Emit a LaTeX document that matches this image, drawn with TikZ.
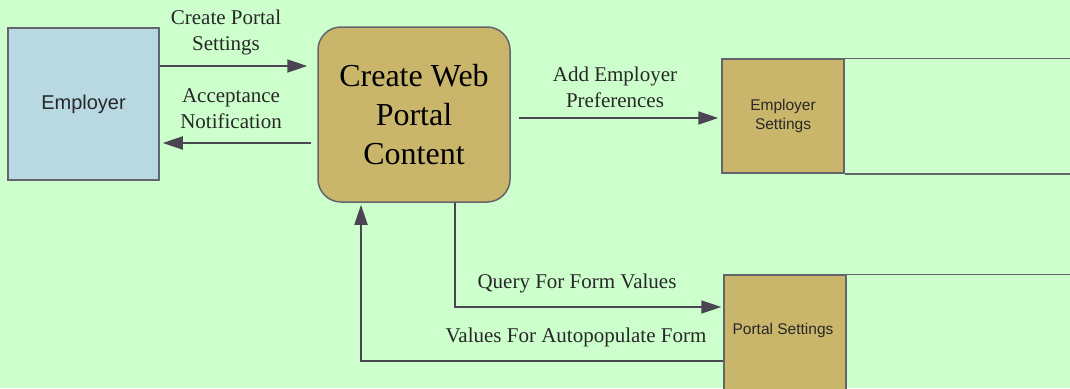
\documentclass[tikz,border=0pt]{standalone}
\usepackage{fontspec}
\setmainfont{Liberation Serif}
\setsansfont{Liberation Sans}
\usetikzlibrary{arrows.meta}
\definecolor{bg}{RGB}{204,255,204}
\definecolor{bluebox}{RGB}{184,216,226}
\definecolor{brown}{RGB}{201,182,106}
\definecolor{edge}{RGB}{100,100,108}
\definecolor{arrowc}{RGB}{75,68,83}
\definecolor{txt}{RGB}{40,40,40}
\tikzset{
  entity/.style={draw=edge, line width=1.5pt, fill=bluebox, inner sep=0pt,
    font=\sffamily\fontsize{20}{24}\selectfont, text=txt},
  process/.style={draw=edge, line width=1.5pt, fill=brown, rounded corners=23pt,
    inner sep=0pt, align=center, font=\fontsize{32}{39}\selectfont, text=black},
  storebox/.style={draw=edge, line width=1.5pt, fill=brown, inner sep=0pt,
    align=center, font=\sffamily\fontsize{15.5}{19}\selectfont, text=txt},
  storeline/.style={draw=edge, line width=1.5pt},
  arr/.style={draw=arrowc, line width=1.8pt, -{Triangle[length=20pt,width=13pt]}},
  lbl/.style={align=center, inner sep=0pt, font=\fontsize{21}{26}\selectfont, text=txt}
}
\begin{document}
\begin{tikzpicture}[x=1pt,y=-1pt]
\useasboundingbox (0,0) rectangle (1070,388);
\fill[bg] (0,0) rectangle (1070,388);

\node[entity, minimum width=151pt, minimum height=152pt] (emp) at (83.5,104) {Employer};
\node[process, minimum width=192pt, minimum height=175pt] (cwpc) at (414,114.5) {Create Web\\Portal\\Content};

% Employer Settings data store
\node[storebox, minimum width=122pt, minimum height=114pt] (es) at (783,116) {Employer\\Settings};
\draw[storeline] (es.north east) -- ++(300,0);
\draw[storeline] (es.south east) -- ++(300,0);

% Portal Settings data store
\node[storebox, minimum width=122pt, minimum height=126pt] (ps) at (785,338) {};
\node[font=\sffamily\fontsize{15.5}{19}\selectfont, text=txt] (pstxt) at (783,330) {Portal Settings};
\draw[storeline] (ps.north east) -- ++(300,0);

% Connectors
\draw[arr, shorten >=10pt] (emp.east |- 0,66) -- (cwpc.west |- 0,66);
\draw[arr, shorten <=6pt, shorten >=3pt] (cwpc.west |- 0,143) -- (emp.east |- 0,143);
\draw[arr, shorten <=8pt, shorten >=3pt] (cwpc.east |- 0,118) -- (es.west |- 0,118);
\draw[arr, shorten >=2pt] (cwpc.south -| 455,0) |- (ps.west |- 0,307);
\draw[arr, shorten >=2pt] (ps.west |- 0,361) -| (cwpc.south -| 361,0);

% Labels
\node[lbl] (l1) at (226,32) {Create Portal\\Settings};
\node[lbl] (l2) at (231,109) {Acceptance\\Notification};
\node[lbl] (l3) at (615,87) {Add Employer\\Preferences};
\node[lbl] (l4) at (577,283) {Query For Form Values};
\node[lbl] (l5) at (576,337) {Values For Autopopulate Form};
\end{tikzpicture}
\end{document}
